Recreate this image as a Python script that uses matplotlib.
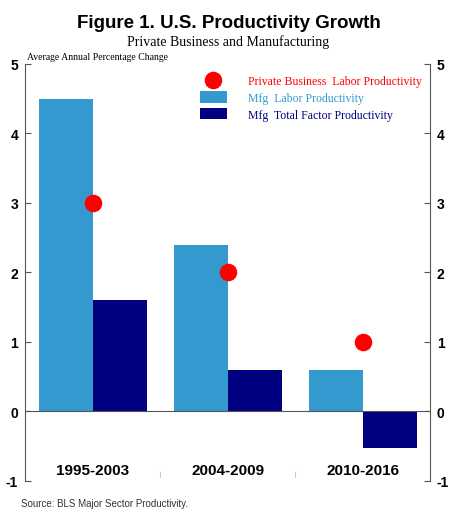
import numpy as np
import matplotlib.pyplot as plt

plt.rcParams["axes.unicode_minus"] = False
plt.rcParams["font.family"] = "Liberation Sans"

periods = ["1995-2003", "2004-2009", "2010-2016"]
private_labor = [3.0, 2.0, 1.0]
mfg_labor = [4.5, 2.4, 0.6]
mfg_tfp = [1.6, 0.6, -0.53]

light = "#3399cf"
dark = "#000080"

fig = plt.figure(figsize=(4.57, 5.1), dpi=100)
ax = fig.add_axes([0.055, 0.055, 0.886, 0.818])

x = np.arange(len(periods))
w = 0.4
b1 = ax.bar(x - w / 2, mfg_labor, w, color=light)
b2 = ax.bar(x + w / 2, mfg_tfp, w, color=dark)
sc = ax.scatter(x, private_labor, s=135, color="#ff0000", zorder=3)
ax.axhline(0, color="#555555", lw=0.8)

ax.set_xlim(-0.5, 2.5)
ax.set_ylim(-1, 5)
for s in ["top", "bottom"]:
    ax.spines[s].set_visible(False)
for s in ["left", "right"]:
    ax.spines[s].set_color("#555555")
    ax.spines[s].set_linewidth(0.8)

ax.set_yticks(range(-1, 6))
ax.tick_params(axis="y", direction="in", length=4, color="#555555",
               right=True, labelright=True, labelsize=10, pad=5)
for lbl in ax.get_yticklabels():
    lbl.set_fontweight("bold")
ax.set_xticks(x)
ax.set_xticklabels(periods, fontsize=11, fontweight="bold")
ax.tick_params(axis="x", length=0, pad=-13)
for xs in [0.5, 1.5]:
    ax.plot([xs, xs], [-0.95, -0.87], color="#cccccc", lw=0.8)

leg = ax.legend([sc, b1, b2],
                ["Private Business  Labor Productivity",
                 "Mfg  Labor Productivity",
                 "Mfg  Total Factor Productivity"],
                loc="upper left", bbox_to_anchor=(0.405, 1.0), frameon=False,
                prop={"family": "Liberation Serif", "size": 8.5},
                handlelength=2.3, handleheight=1.1, handletextpad=1.8,
                labelspacing=0.35)
for t, c in zip(leg.get_texts(), ["#ff0000", light, dark]):
    t.set_color(c)

fig.text(0.5, 0.945, "Figure 1. U.S. Productivity Growth", ha="center",
         fontsize=13.5, fontweight="bold")
fig.text(0.5, 0.91, "Private Business and Manufacturing", ha="center",
         fontsize=10, family="Liberation Serif")
fig.text(0.058, 0.882, "Average Annual Percentage Change", ha="left",
         fontsize=7, family="Liberation Serif")
fig.text(0.045, 0.005, "Source: BLS Major Sector Productivity.", ha="left",
         fontsize=7, color="#333333")

fig.savefig("out.png", dpi=100)
